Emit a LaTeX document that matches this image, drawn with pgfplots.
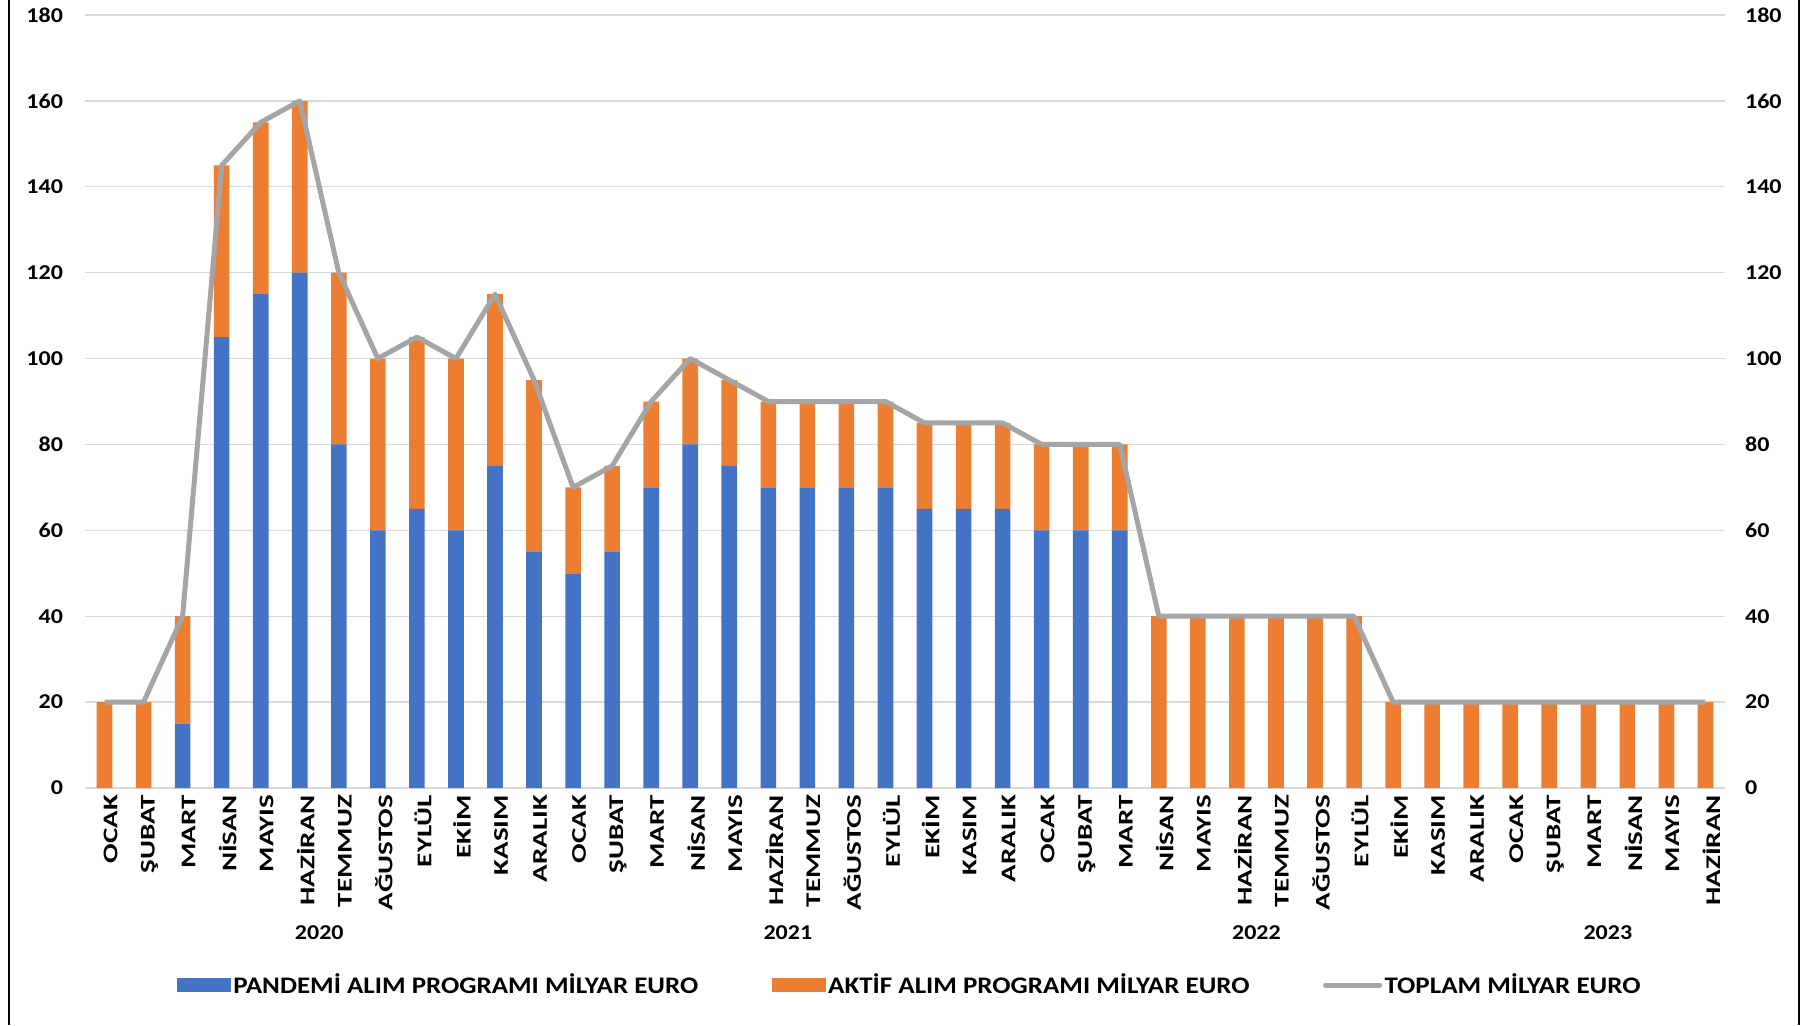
\documentclass[border=0pt]{standalone}
\usepackage{graphicx}
\usepackage{pgfplots}
\pgfplotsset{compat=1.18}
\usepackage{pgfplotstable}
\usepackage{fontspec}
\setmainfont{Carlito}

\definecolor{pandemi}{HTML}{4472C4}
\definecolor{aktif}{HTML}{ED7D31}
\definecolor{toplam}{HTML}{A5A5A5}
\definecolor{izgara}{HTML}{D9D9D9}
\newcommand\lab{\fontsize{12}{14}\selectfont\bfseries}
\newcommand\aylab{\fontsize{14.5}{17}\selectfont\bfseries}
\newcommand\leglab{\fontsize{13.5}{16}\selectfont\bfseries}
\newcommand\ay[1]{\scalebox{1}[0.72]{#1}}
\newcommand\yazi[1]{\scalebox{1}[0.88]{#1}}

% ay no, pandemi, aktif, toplam (milyar euro)
\pgfplotstableread{
x pan akt top
0 0 20 20
1 0 20 20
2 15 25 40
3 105 40 145
4 115 40 155
5 120 40 160
6 80 40 120
7 60 40 100
8 65 40 105
9 60 40 100
10 75 40 115
11 55 40 95
12 50 20 70
13 55 20 75
14 70 20 90
15 80 20 100
16 75 20 95
17 70 20 90
18 70 20 90
19 70 20 90
20 70 20 90
21 65 20 85
22 65 20 85
23 65 20 85
24 60 20 80
25 60 20 80
26 60 20 80
27 0 40 40
28 0 40 40
29 0 40 40
30 0 40 40
31 0 40 40
32 0 40 40
33 0 20 20
34 0 20 20
35 0 20 20
36 0 20 20
37 0 20 20
38 0 20 20
39 0 20 20
40 0 20 20
41 0 20 20
}\veri

\pgfplotsset{ortak/.style={
  scale only axis, width=820pt, height=386.5pt,
  at={(42.5pt,118.5pt)}, anchor=south west,
  xmin=-0.5, xmax=41.5, ymin=0, ymax=180,
  ytick={0,20,...,180}, major tick length=0,
  axis line style={draw=none},
  /pgf/number format/assume math mode=true,
  ticklabel style={font=\lab},
  yticklabel={\yazi{\pgfmathprintnumber{\tick}}},
},
cizgilej/.style={legend image code/.code={\draw[##1, line cap=round] (0pt,0pt) -- (27pt,0pt);}},
kutulej/.style={legend image code/.code={\fill[##1] (0pt,-3.5pt) rectangle (27pt,3.5pt);}},
}

\begin{document}
\begin{tikzpicture}
\path[use as bounding box] (0,0) rectangle (902pt,512.5pt);
\draw[line width=1.2pt] (4.5pt,0) -- (4.5pt,512.5pt);
\draw[line width=1.2pt] (899.5pt,0) -- (899.5pt,512.5pt);

\begin{axis}[ortak,
  ybar stacked, bar width=0.4,
  clip=false,
  xtick={0,...,41},
  xticklabels={\ay{OCAK},\ay{ŞUBAT},\ay{MART},\ay{NİSAN},\ay{MAYIS},\ay{HAZİRAN},
               \ay{TEMMUZ},\ay{AĞUSTOS},\ay{EYLÜL},\ay{EKİM},\ay{KASIM},\ay{ARALIK},
               \ay{OCAK},\ay{ŞUBAT},\ay{MART},\ay{NİSAN},\ay{MAYIS},\ay{HAZİRAN},
               \ay{TEMMUZ},\ay{AĞUSTOS},\ay{EYLÜL},\ay{EKİM},\ay{KASIM},\ay{ARALIK},
               \ay{OCAK},\ay{ŞUBAT},\ay{MART},\ay{NİSAN},\ay{MAYIS},\ay{HAZİRAN},
               \ay{TEMMUZ},\ay{AĞUSTOS},\ay{EYLÜL},\ay{EKİM},\ay{KASIM},\ay{ARALIK},
               \ay{OCAK},\ay{ŞUBAT},\ay{MART},\ay{NİSAN},\ay{MAYIS},\ay{HAZİRAN}},
  xticklabel style={rotate=90, anchor=east, yshift=-3pt, font=\aylab},
  yticklabel style={xshift=-7.5pt},
  ymajorgrids, grid style={izgara, line width=0.7pt},
]
\addplot[fill=pandemi, draw=none] table[x=x,y=pan]{\veri};
\addplot[fill=aktif, draw=none] table[x=x,y=akt]{\veri};
\node[font=\lab, yshift=-72.5pt] at (axis cs:5.5,0) {\yazi{2020}};
\node[font=\lab, yshift=-72.5pt] at (axis cs:17.5,0) {\yazi{2021}};
\node[font=\lab, yshift=-72.5pt] at (axis cs:29.5,0) {\yazi{2022}};
\node[font=\lab, yshift=-72.5pt] at (axis cs:38.5,0) {\yazi{2023}};
\end{axis}

\begin{axis}[ortak,
  hide x axis,
  yticklabel pos=right,
  yticklabel style={xshift=6.5pt},
  legend columns=3,
  legend style={at={(0.503,-0.2549)}, anchor=center, draw=none, fill=none,
    font=\leglab, nodes={inner sep=1.25pt},
    /tikz/every even column/.append style={column sep=35.5pt}},
]
\addlegendimage{kutulej, fill=pandemi, draw=none}
\addlegendentry{\yazi{PANDEMİ ALIM PROGRAMI MİLYAR EURO}}
\addlegendimage{kutulej, fill=aktif, draw=none}
\addlegendentry{\yazi{AKTİF ALIM PROGRAMI MİLYAR EURO}}
\addplot[toplam, line width=2.5pt, line join=round, mark=none, cizgilej]
  table[x=x,y=top]{\veri};
\addlegendentry{\yazi{TOPLAM MİLYAR EURO}}
\end{axis}
\end{tikzpicture}
\end{document}
